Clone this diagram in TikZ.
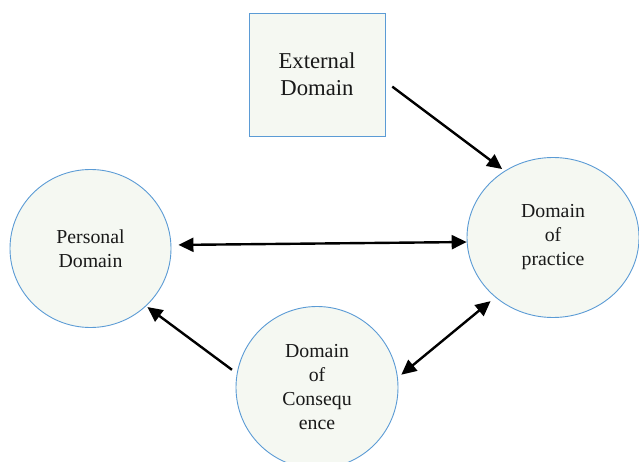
\documentclass[tikz,border=0pt]{standalone}
\usepackage{fontspec}
\setmainfont{Liberation Serif}
\usetikzlibrary{shapes.geometric,arrows.meta}
\definecolor{fillc}{HTML}{F5F8F2}
\definecolor{edgec}{HTML}{5B9BD5}
\tikzset{
  dom/.style={ellipse, draw=edgec, fill=fillc, line width=0.9pt, inner sep=0pt, align=center,
    font=\fontsize{19.8}{24}\selectfont, text=black!90},
  extbox/.style={rectangle, draw=edgec, fill=fillc, line width=0.9pt, inner sep=0pt, align=center,
    minimum width=136pt, minimum height=123pt, font=\fontsize{22.7}{27}\selectfont, text=black!90},
  arr/.style={line width=2.4pt, -{Triangle[length=15pt,width=14pt]}},
  darr/.style={line width=2.4pt, {Triangle[length=15pt,width=14pt]}-{Triangle[length=15pt,width=14pt]}}
}
\begin{document}
\begin{tikzpicture}[x=1pt,y=-1pt]
\useasboundingbox (0,0) rectangle (639,462);
\node[extbox] (ext) at (317,74.5) {External\\Domain};
\node[dom, minimum width=161pt, minimum height=158pt] (pers) at (90.5,248.5) {Personal\\Domain};
\node[dom, minimum width=172pt, minimum height=160pt] (prac) at (553,237.5) {Domain\\of\\practice};
\node[dom, minimum width=162pt, minimum height=162pt] (cons) at (317,387.5) {Domain\\of\\Consequ\\ence};
\draw[arr, shorten <=8.5pt, shorten >=3pt] ([yshift=-7pt]ext.east) -- (prac.126);
\draw[darr, shorten <=7pt, shorten >=0pt] ([yshift=3.5pt]pers.east) -- (prac.183);
\draw[arr, shorten <=6pt, shorten >=1.5pt] (cons.170) -- (pers.-46);
\draw[darr, shorten <=4.5pt, shorten >=6pt] (cons.7) -- (prac.226);
\end{tikzpicture}
\end{document}
